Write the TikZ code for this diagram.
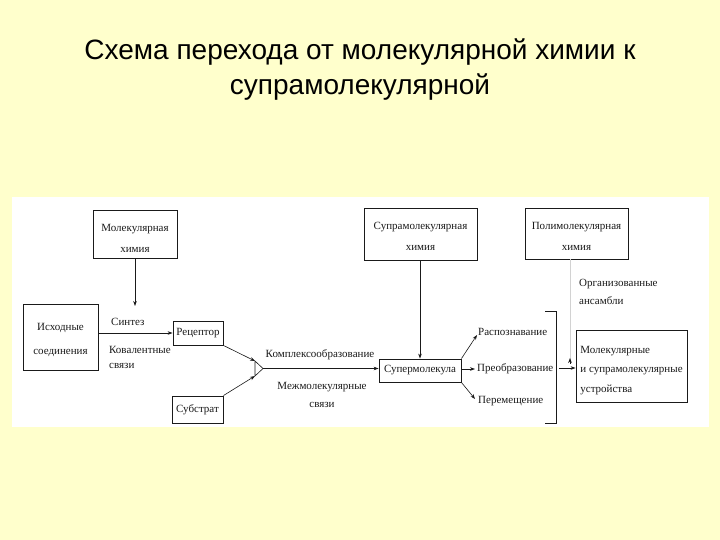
\documentclass[tikz,border=0pt]{standalone}
\usepackage{fontspec}
\setmainfont{Liberation Serif}
\newfontfamily\titlefont{Liberation Sans}
\usetikzlibrary{arrows.meta}
\definecolor{slidebg}{HTML}{FFFFCC}
\definecolor{ink}{HTML}{1A1A1A}
\tikzset{
  box/.style={draw=ink, line width=0.9pt, inner sep=0pt, align=center, text=ink,
    font=\fontsize{11}{21}\selectfont},
  lbl/.style={inner sep=0pt, text=ink, font=\fontsize{11}{18}\selectfont},
  conn/.style={draw=ink, line width=0.6pt},
  arr/.style={conn, -{Stealth[length=5pt,width=3.6pt]}},
}
\begin{document}
\begin{tikzpicture}[x=1pt,y=-1pt]
\useasboundingbox (0,0) rectangle (720,540);
\fill[slidebg] (0,0) rectangle (720,540);
\fill[white] (12,197) rectangle (709,427);
\node[align=center, inner sep=0pt, font=\titlefont\fontsize{28}{35}\selectfont] (title) at (360,70)
  {Схема перехода от молекулярной химии к\\супрамолекулярной};

% boxes
\node[box, minimum width=84pt, minimum height=48pt, text height=36pt] (mol) at (135,234) {Молекулярная\\химия};
\node[box, minimum width=75pt, minimum height=66pt, text height=36.5pt, font=\fontsize{11}{24}\selectfont] (ish) at (60.5,337) {Исходные\\соединения};
\node[box, minimum width=50pt, minimum height=24pt] (rec) at (198,333) {Рецептор};
\node[box, minimum width=51pt, minimum height=27pt] (sub) at (197.5,409.5) {Субстрат};
\node[box, minimum width=113pt, minimum height=52pt, text height=34pt] (supchem) at (420.5,234) {Супрамолекулярная\\химия};
\node[box, minimum width=103pt, minimum height=51pt, text height=34pt] (polchem) at (576.5,233.5) {Полимолекулярная\\химия};
\node[box, minimum width=82pt, minimum height=23pt] (supmol) at (420,370.5) {Супермолекула};
\node[box, minimum width=111pt, minimum height=72pt, align=left, text height=54.5pt,
  font=\fontsize{11}{19.5}\selectfont] (dev) at (631.5,366) {Молекулярные\\и супрамолекулярные\\устройства};

% labels
\node[lbl, anchor=west] (synth) at (111,322) {Синтез};
\node[lbl, anchor=north west, align=left, font=\fontsize{11}{15}\selectfont] (koval) at (109,346) {Ковалентные\\связи};
\node[lbl] (kompl) at (320,355) {Комплексообразование};
\node[lbl, align=center] (mezh) at (322,395) {Межмолекулярные\\связи};
\node[lbl, anchor=west] (rasp) at (478,332) {Распознавание};
\node[lbl, anchor=west] (preob) at (477,369) {Преобразование};
\node[lbl, anchor=west] (perem) at (478,401) {Перемещение};
\node[lbl, anchor=north west, align=left] (org) at (579,279) {Организованные\\ансамбли};

% coordinates
\coordinate (synthend) at (135,306);
\coordinate (tA) at (255,361);
\coordinate (tB) at (255,376);
\coordinate (tC) at (263,368.5);
\coordinate (raspend) at (477,335);
\coordinate (preobend) at (475,369);
\coordinate (peremend) at (475,399);
\coordinate (brTop) at (556,311);
\coordinate (brBot) at (556,423);
\coordinate (brOut) at (559,368);
\coordinate (faintend) at (570,358);

% connectors
\draw[arr] (mol.south) -- (synthend);
\draw[arr] (ish.east |- rec.west) -- (rec.west);
\draw[arr] (rec.south east) -- (tA);
\draw[arr] (sub.north east) -- (tB);
\draw[conn] (tA) -- (tB) -- (tC) -- cycle;
\draw[arr] (tC) -- (supmol.west |- tC);
\draw[arr] (supchem.south -| supmol.north) -- (supmol.north);
\draw[arr] (supmol.north east) -- (raspend);
\draw[arr] (supmol.east |- preobend) -- (preobend);
\draw[arr] (supmol.south east) -- (peremend);
\draw[conn] ([xshift=-11pt]brTop) -- (brTop) -- (brBot) -- ([xshift=-11pt]brBot);
\draw[arr] (brOut) -- (dev.west |- brOut);
\draw[draw=gray!35, line width=0.6pt] (polchem.south -| faintend) -- ([yshift=-5pt]faintend);
\draw[arr, draw=ink] ([yshift=-5.5pt]faintend) -- (faintend);
\end{tikzpicture}
\end{document}
